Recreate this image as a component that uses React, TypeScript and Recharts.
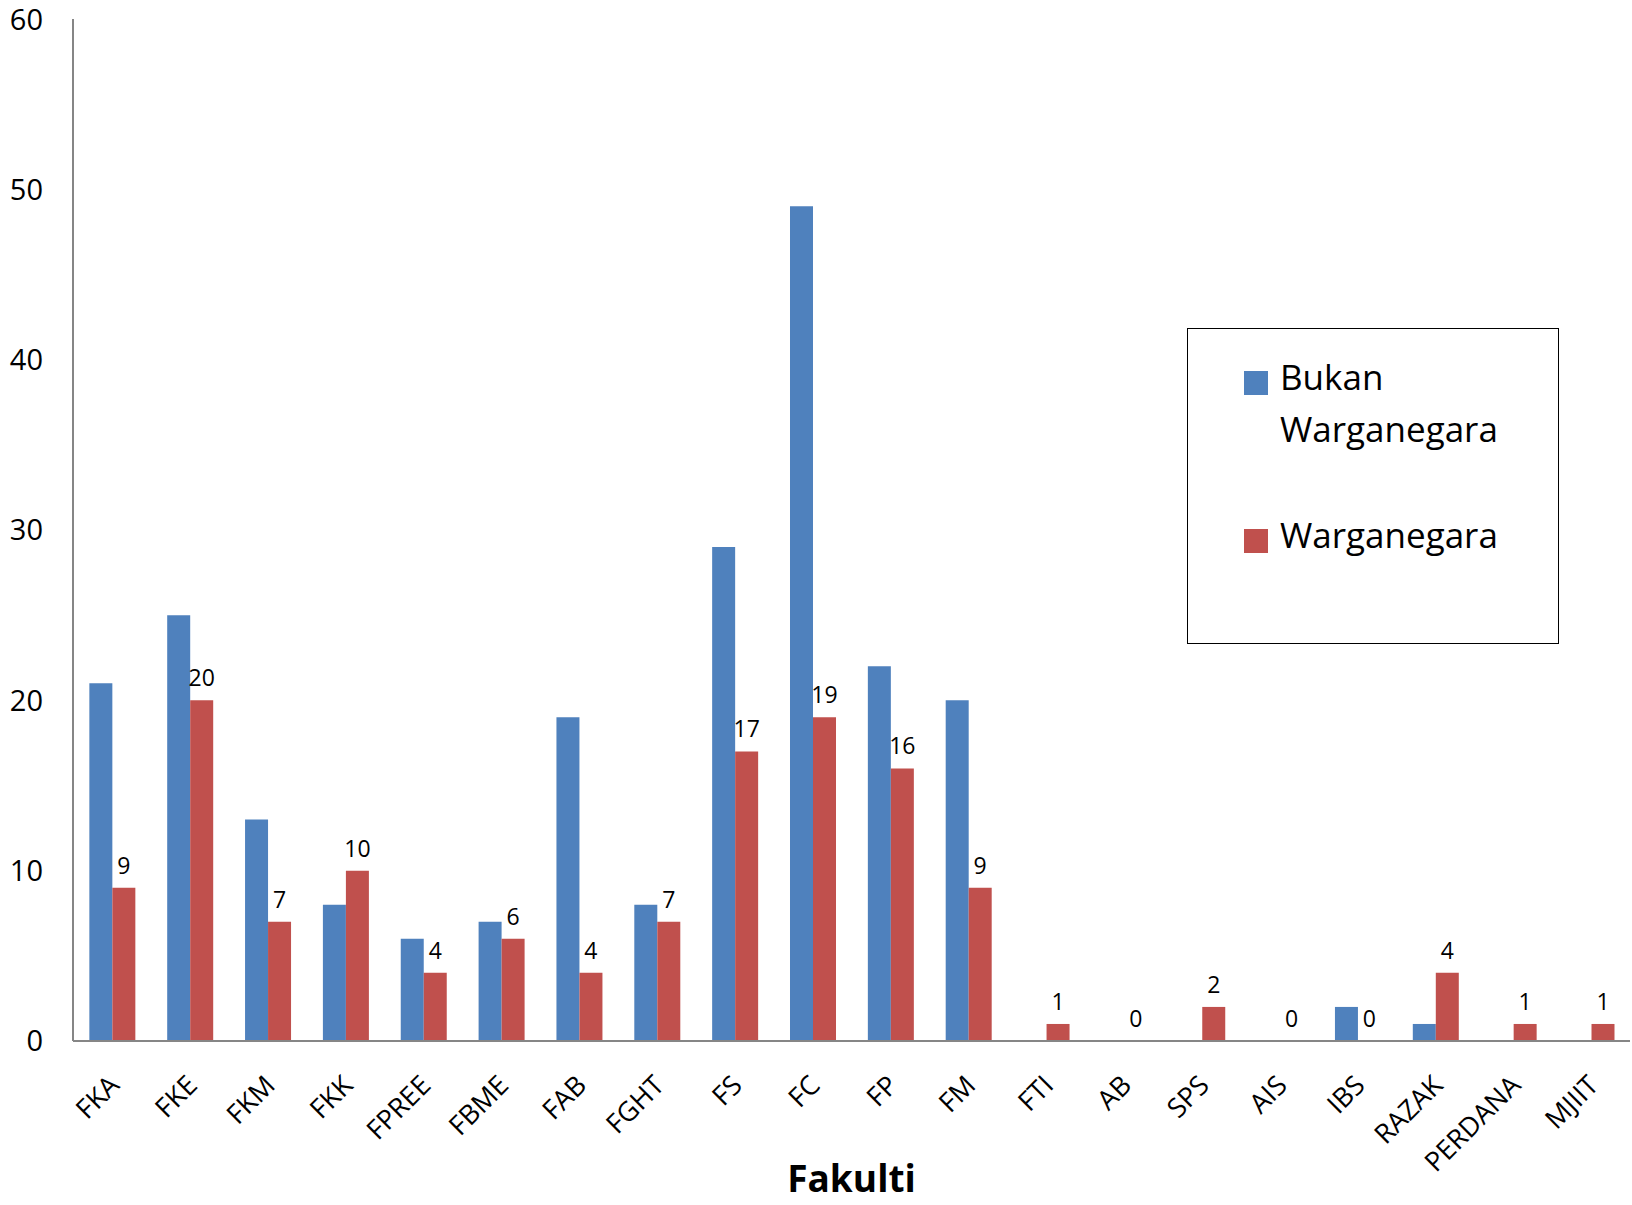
import React from 'react';
import { BarChart, Bar, XAxis, YAxis, LabelList, Legend, Label } from 'recharts';

const fakulti = ['FKA', 'FKE', 'FKM', 'FKK', 'FPREE', 'FBME', 'FAB', 'FGHT', 'FS', 'FC', 'FP', 'FM', 'FTI', 'AB', 'SPS', 'AIS', 'IBS', 'RAZAK', 'PERDANA', 'MJIIT'];
const bukanWarganegara = [21, 25, 13, 8, 6, 7, 19, 8, 29, 49, 22, 20, 0, 0, 0, 0, 2, 1, 0, 0];
const warganegara = [9, 20, 7, 10, 4, 6, 4, 7, 17, 19, 16, 9, 1, 0, 2, 0, 0, 4, 1, 1];
const yTicks = [0, 10, 20, 30, 40, 50, 60];

const data = fakulti.map((name, i) => ({
  name,
  bukan: bukanWarganegara[i],
  warga: warganegara[i],
}));

const FONT = '"Open Sans", sans-serif';
const BLUE = '#4F81BD';
const RED = '#C0504D';

const RotTick = (props: any) => {
  const { x, y, payload } = props;
  return (
    <g transform={`translate(${x + 9},${y + 44})`}>
      <text transform="rotate(-45)" textAnchor="end" fontSize={27} fontFamily={FONT} fill="#000">
        {payload.value}
      </text>
    </g>
  );
};

const LegendBox = () => (
  <div
    style={{
      width: 372,
      height: 316,
      border: '1.5px solid #000',
      boxSizing: 'border-box',
      background: '#fff',
      position: 'relative',
      fontFamily: FONT,
      fontSize: 35,
      color: '#000',
    }}
  >
    <div style={{ position: 'absolute', left: 56, top: 42, width: 24, height: 24, background: BLUE }} />
    <div style={{ position: 'absolute', left: 92, top: 22, lineHeight: '52px' }}>
      Bukan
      <br />
      Warganegara
    </div>
    <div style={{ position: 'absolute', left: 56, top: 200, width: 24, height: 24, background: RED }} />
    <div style={{ position: 'absolute', left: 92, top: 180, lineHeight: '52px' }}>Warganegara</div>
  </div>
);

export default function App() {
  return (
    <div style={{ position: 'absolute', left: 0, top: 0, background: '#fff' }}>
      <BarChart
        width={1632}
        height={1205}
        data={data}
        margin={{ top: 19, right: 2, bottom: 0, left: 0 }}
        barGap={0}
        barCategoryGap="21%"
      >
        <XAxis
          dataKey="name"
          interval={0}
          tick={<RotTick />}
          tickLine={false}
          tickSize={0}
          axisLine={{ stroke: '#868686', strokeWidth: 2 }}
          height={164}
        >
          <Label
            value="Fakulti"
            position="insideBottom"
            offset={13}
            style={{ fontFamily: FONT, fontSize: 37, fontWeight: 700, fill: '#000' }}
          />
        </XAxis>
        <YAxis
          domain={[0, 60]}
          ticks={yTicks}
          width={73}
          tickLine={false}
          tickSize={0}
          tickMargin={30}
          axisLine={{ stroke: '#868686', strokeWidth: 2 }}
          tick={{ fontSize: 29, fontFamily: FONT, fill: '#000' }}
        />
        <Legend
          layout="vertical"
          align="center"
          verticalAlign="middle"
          content={<LegendBox />}
          wrapperStyle={{ position: 'absolute', left: 1187, top: 328, width: 372, height: 316 }}
        />
        <Bar dataKey="bukan" name="Bukan Warganegara" fill={BLUE} isAnimationActive={false} />
        <Bar dataKey="warga" name="Warganegara" fill={RED} minPointSize={0.01} isAnimationActive={false}>
          <LabelList dataKey="warga" position="top" offset={14} style={{ fontSize: 23, fontFamily: FONT, fill: '#000' }} />
        </Bar>
      </BarChart>
    </div>
  );
}
